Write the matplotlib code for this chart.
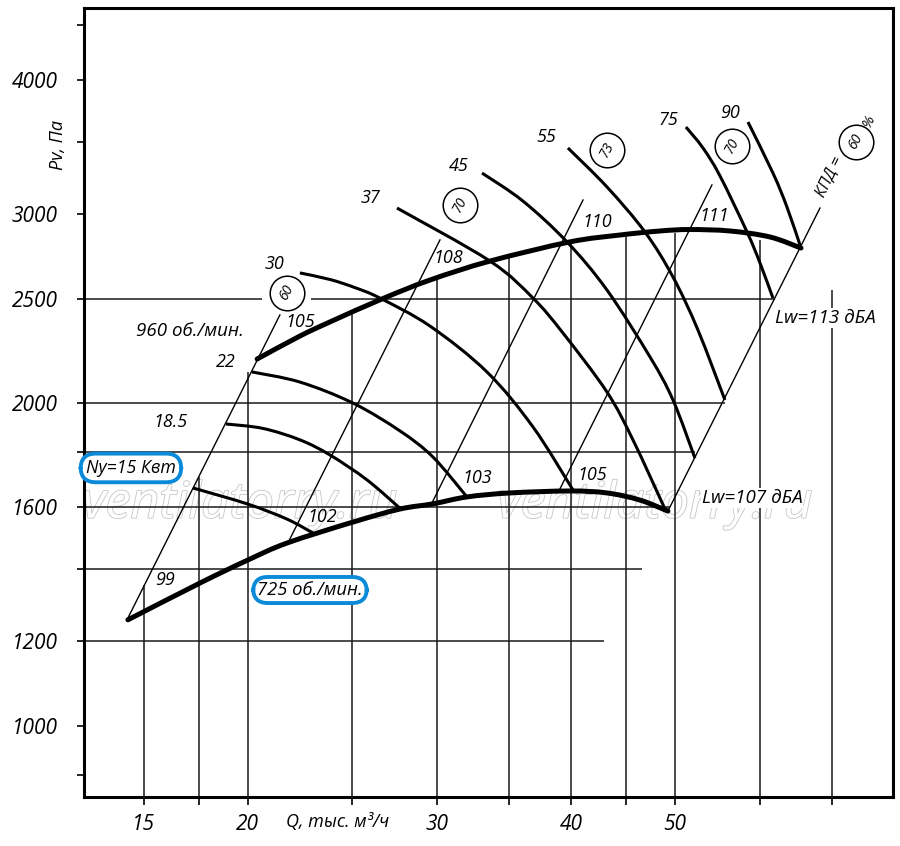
import matplotlib
matplotlib.use("Agg")
import numpy as np
import matplotlib.pyplot as plt
from matplotlib.ticker import FixedLocator, FixedFormatter, NullLocator
from matplotlib.path import Path
from matplotlib.patches import PathPatch
import matplotlib.patheffects as pe

plt.rcParams['font.family'] = ['Open Sans', 'DejaVu Sans']

# ---------------- data (Q in тыс. м3/ч, P in Па) ----------------
Q_TICKS = [16, 18, 20, 25, 30, 35, 40, 45, 50, 60, 70]
Q_TICK_LABELS = ['15', '', '20', '', '30', '', '40', '', '50', '', '']
VGRID_TOP = [1353, 1706, 2138, 2426, 2610, 2730, 2826, 2856, 2880, 2838, 2549]

P_TICKS = [900, 1000, 1200, 1400, 1600, 1800, 2000, 2500, 3000, 3500, 4000, 4500]
P_TICK_LABELS = ['', '1000', '1200', '', '1600', '', '2000', '2500', '3000', '', '4000', '']
HGRID_P = [1200, 1400, 1600, 1800, 2000]
HGRID_END = [42.9, 46.6, 49.5, 52.2, 55.7]
HGRID_2500_GAP = [20.6, 22.9]
HGRID_2500_END = 62.0

# 960 rpm envelope
ENV960_Q = [20.4, 22.36, 23.85, 26.66, 29.56, 33.62, 39.91, 44.43, 48.42, 51.64, 56.26, 61.31, 65.53]
ENV960_P = [2198, 2309, 2380, 2500, 2604, 2712, 2826, 2868, 2893, 2902, 2893, 2856, 2789]
# 725 rpm envelope
ENV725_Q = [15.46, 18.04, 20.0, 21.75, 25.05, 27.71, 29.75, 32.0, 35.09, 39.91, 43.21, 46.38, 49.25]
ENV725_P = [1256, 1359, 1428, 1481, 1549, 1593, 1611, 1635, 1649, 1656, 1649, 1624, 1586]

# power curves (kW)
PW15_Q = [17.77, 20.0, 21.75, 23.0]
PW15_P = [1667, 1610, 1559, 1513]
PW185_Q = [19.08, 20.65, 22.36, 23.85, 25.82, 27.71]
PW185_P = [1912, 1894, 1848, 1789, 1696, 1596]
PW22_Q = [20.17, 22.36, 25.05, 27.71, 29.75, 32.0]
PW22_P = [2138, 2092, 2000, 1884, 1781, 1635]
PW30_Q = [22.36, 23.85, 25.16, 26.55, 29.56, 33.4, 36.87, 40.17]
PW30_P = [2644, 2607, 2562, 2505, 2359, 2138, 1900, 1660]
PW37_Q = [27.54, 33.62, 36.87, 39.32, 43.21, 45.69, 48.9]
PW37_P = [3039, 2712, 2505, 2324, 2048, 1848, 1596]
PW45_Q = [33.05, 36.08, 39.66, 43.21, 47.39, 49.79, 52.19]
PW45_P = [3276, 3085, 2826, 2549, 2208, 2013, 1777]
PW55_Q = [39.74, 43.21, 46.88, 49.79, 52.53, 55.66]
PW55_P = [3457, 3180, 2887, 2621, 2339, 2013]
PW75_Q = [51.19, 53.1, 55.07, 58.36, 60.01, 61.7]
PW75_P = [3616, 3457, 3256, 2887, 2701, 2505]
PW90_Q = [58.48, 61.7, 63.58, 65.53]
PW90_P = [3655, 3276, 3046, 2789]

# efficiency / noise lines (straight in log-log)
LEFT60_Q = [15.43, 21.42]
LEFT60_P = [1256, 2416]
L108_Q = [21.79, 30.2]
L108_P = [1481, 2838]
L110_Q = [29.62, 41.05]
L110_P = [1607, 3092]
L111_Q = [38.98, 54.13]
L111_P = [1656, 3193]
RIGHT60_Q = [49.25, 68.25]
RIGHT60_P = [1586, 3039]

# efficiency circles
EFF_LABELS = ['60', '70', '73', '70', '60']
EFF_Q = [21.75, 31.52, 43.21, 56.51, 73.73]
EFF_P = [2532, 3059, 3442, 3472, 3502]

# text labels: (text, Q, P)
POWER_TEXT = [('30', 21.19, 2695), ('37', 26.04, 3105), ('45', 31.45, 3326),
              ('55', 37.91, 3540), ('75', 49.25, 3671), ('90', 56.26, 3727),
              ('22', 19.08, 2184), ('18.5', 16.95, 1920)]
NOISE_960 = [('105', 22.36, 2380), ('108', 30.72, 2730), ('110', 42.29, 2950),
             ('111', 54.37, 2988)]
NOISE_725 = [('99', 16.74, 1368), ('102', 23.44, 1566), ('103', 32.69, 1703),
             ('105', 41.84, 1714)]

BLUE = '#0a8ad8'


def smooth_path(q, p):
    """Catmull-Rom curve through the read points, built in log space (display-linear)."""
    pts = np.column_stack([np.log10(q), np.log10(p)])
    n = len(pts)
    verts = [pts[0]]
    codes = [Path.MOVETO]
    for i in range(n - 1):
        p0 = pts[i - 1] if i > 0 else pts[i]
        p1 = pts[i]
        p2 = pts[i + 1]
        p3 = pts[i + 2] if i + 2 < n else pts[i + 1]
        c1 = p1 + (p2 - p0) / 6.0
        c2 = p2 - (p3 - p1) / 6.0
        verts += [c1, c2, p2]
        codes += [Path.CURVE4] * 3
    return Path(10 ** np.array(verts), codes)


fig = plt.figure(figsize=(9, 8.46), dpi=100)
ax = fig.add_axes([84/900, 1-797/846, (893-84)/900, (797-8)/846])
ax.set_xscale('log')
ax.set_yscale('log')
xmin, xmax = 14.07, 79.83
ymin, ymax = 858.8, 4668
ax.set_xlim(xmin, xmax)
ax.set_ylim(ymin, ymax)
ax.set_autoscale_on(False)

for s in ax.spines.values():
    s.set_linewidth(2.2)

ax.xaxis.set_major_locator(FixedLocator(Q_TICKS))
ax.xaxis.set_major_formatter(FixedFormatter(Q_TICK_LABELS))
ax.xaxis.set_minor_locator(NullLocator())
ax.yaxis.set_major_locator(FixedLocator(P_TICKS))
ax.yaxis.set_major_formatter(FixedFormatter(P_TICK_LABELS))
ax.yaxis.set_minor_locator(NullLocator())
ax.tick_params(axis='x', direction='out', length=6, width=1.2, pad=6, labelsize=15)
ax.tick_params(axis='y', direction='out', length=5, width=1.2, pad=14, labelsize=15)
for lab in ax.get_xticklabels() + ax.get_yticklabels():
    lab.set_fontstyle('italic')

GL = dict(color='#1a1a1a', lw=1.1, zorder=1, solid_capstyle='butt')
for q, top in zip(Q_TICKS, VGRID_TOP):
    ax.plot([q, q], [ymin, top], **GL)
for p, end in zip(HGRID_P, HGRID_END):
    ax.plot([xmin, end], [p, p], **GL)
ax.plot([xmin, HGRID_2500_GAP[0]], [2500, 2500], **GL)
ax.plot([HGRID_2500_GAP[1], HGRID_2500_END], [2500, 2500], **GL)

for qq, pp in [(LEFT60_Q, LEFT60_P), (L108_Q, L108_P), (L110_Q, L110_P),
               (L111_Q, L111_P), (RIGHT60_Q, RIGHT60_P)]:
    ax.plot(qq, pp, color='black', lw=1.0, zorder=2)

for qq, pp in [(PW15_Q, PW15_P), (PW185_Q, PW185_P), (PW22_Q, PW22_P),
               (PW30_Q, PW30_P), (PW37_Q, PW37_P), (PW45_Q, PW45_P),
               (PW55_Q, PW55_P), (PW75_Q, PW75_P), (PW90_Q, PW90_P)]:
    ax.add_patch(PathPatch(smooth_path(qq, pp), fill=False, ec='black', lw=2.2,
                           zorder=3, capstyle='butt'))

for qq, pp in [(ENV960_Q, ENV960_P), (ENV725_Q, ENV725_P)]:
    ax.add_patch(PathPatch(smooth_path(qq, pp), fill=False, ec='black', lw=3.6,
                           zorder=4, capstyle='round'))

ax.scatter(EFF_Q, EFF_P, s=620, facecolor='white', edgecolor='black', linewidth=1.1, zorder=5)
for t, q, p in zip(EFF_LABELS, EFF_Q, EFF_P):
    ax.text(q, p, t, fontsize=10, style='italic', rotation=62, ha='center', va='center',
            rotation_mode='anchor', zorder=6)

TXT = dict(style='italic', ha='center', va='center', zorder=6)
for t, q, p in POWER_TEXT:
    ax.text(q, p, t, fontsize=13, **TXT)
for t, q, p in NOISE_960 + NOISE_725:
    ax.text(q, p, t, fontsize=13, **TXT)

ax.text(17.66, 2334, '960 об./мин.', fontsize=13.5, **TXT)
ax.text(15.56, 1740, 'Ny=15 Квт', fontsize=12.8, **TXT,
        bbox=dict(boxstyle='round,pad=0.3,rounding_size=0.85', fc='white', ec=BLUE, lw=2.8))
ax.text(22.85, 1339, '725 об./мин.', fontsize=13.2, **TXT,
        bbox=dict(boxstyle='round,pad=0.22,rounding_size=0.8', fc='white', ec=BLUE, lw=2.8))
ax.text(68.99, 2400, 'Lw=113 дБА', fontsize=13.5, **TXT,
        bbox=dict(boxstyle='square,pad=0.05', fc='white', ec='none'))
ax.text(58.98, 1631, 'Lw=107 дБА', fontsize=13.5, **TXT,
        bbox=dict(boxstyle='square,pad=0.05', fc='white', ec='none'))
ax.text(69.7, 3250, 'КПД =', fontsize=11.5, rotation=64, rotation_mode='anchor', **TXT)
ax.text(75.82, 3663, '%', fontsize=10.5, rotation=64, rotation_mode='anchor', **TXT)

for q in [19.66, 47.9]:
    ax.text(q, 1607, 'ventilatorry.ru', fontsize=36, style='italic', color='white',
            ha='center', va='center', zorder=0.5,
            path_effects=[pe.Stroke(linewidth=1.2, foreground='#c6c6c6'), pe.Normal()])

fig.text(58/900, 1-145/846, 'Pv, Па', rotation=90, fontsize=13, style='italic',
         ha='center', va='center')
fig.text(338/900, 1-822/846, 'Q, тыс. м³/ч', fontsize=13, style='italic',
         ha='center', va='center')

fig.savefig('out.png', dpi=100)
